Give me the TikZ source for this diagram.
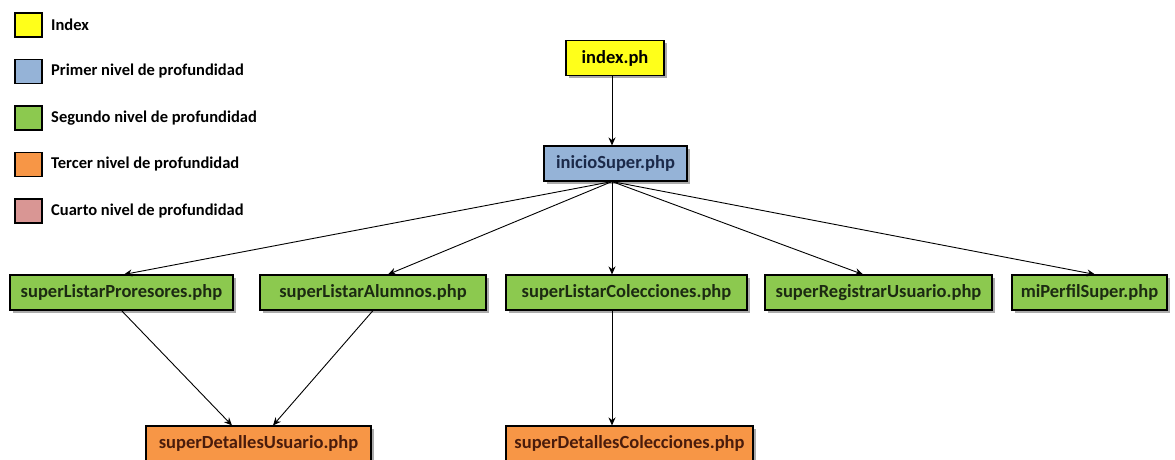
\documentclass[tikz,border=0pt]{standalone}
\usepackage{fontspec}
\setmainfont{Carlito}
\usepackage{xcolor}
\usetikzlibrary{arrows.meta,positioning,calc,shadows}
\definecolor{idxc}{HTML}{FFFF1A}
\definecolor{lvla}{HTML}{95B3D7}
\definecolor{lvlb}{HTML}{8CC94F}
\definecolor{lvlc}{HTML}{F79646}
\definecolor{lvld}{HTML}{D99694}
\definecolor{inkb}{HTML}{1B2A4A}
\definecolor{inkg}{HTML}{1C2A12}
\definecolor{inko}{HTML}{4A1C0C}

\tikzset{
  page/.style={draw=black, line width=1.1pt, minimum height=35pt, inner sep=0pt,
    font=\fontsize{18.5}{20}\selectfont\bfseries,
    drop shadow={shadow xshift=2.5pt, shadow yshift=-2.5pt, fill=black!55, opacity=0.6}},
  legbox/.style={draw=black, line width=1.1pt, minimum width=27pt, minimum height=24pt, inner sep=0pt},
  legtext/.style={anchor=west, inner sep=0pt, font=\fontsize{16.5}{18}\selectfont\bfseries},
  link/.style={draw=black, line width=0.9pt, -{Stealth[length=8pt,width=7pt]}}
}

\begin{document}
\begin{tikzpicture}[x=1pt, y=-1pt]
\useasboundingbox (0,0) rectangle (1175,459);

% legend, one row per depth level
\foreach \c/\t [count=\i] in {idxc/Index, lvla/Primer nivel de profundidad,
    lvlb/Segundo nivel de profundidad, lvlc/Tercer nivel de profundidad,
    lvld/Cuarto nivel de profundidad}{
  \node[legbox, fill=\c] (lg\i) at (28.5,{25+46.5*(\i-1)}) {};
  \node[legtext] (lt\i) at (51,{25+46.5*(\i-1)}) {\t};
}

% ---- index and first level ----
\node[page, fill=idxc, minimum width=98pt]  (idx) at (615,58)    {index.ph};
\node[page, fill=lvla, text=inkb, minimum width=143pt] (ini) at (615.5,163.5) {inicioSuper.php};

% ---- second level ----
\node[page, fill=lvlb, text=inkg, minimum width=223pt] (pl) at (121.5,292.5)  {superListarProresores.php};
\node[page, fill=lvlb, text=inkg, minimum width=226pt] (al) at (373,292.5)    {superListarAlumnos.php};
\node[page, fill=lvlb, text=inkg, minimum width=241pt] (co) at (626.5,292.5)  {superListarColecciones.php};
\node[page, fill=lvlb, text=inkg, minimum width=227pt] (re) at (878.5,292.5)  {superRegistrarUsuario.php};
\node[page, fill=lvlb, text=inkg, minimum width=155pt] (mp) at (1089.5,292.5) {miPerfilSuper.php};

% ---- third level ----
\node[page, fill=lvlc, text=inko, minimum width=225pt] (du) at (258.5,443.5) {superDetallesUsuario.php};
\node[page, fill=lvlc, text=inko, minimum width=247pt] (dc) at (629.5,443.5) {superDetallesColecciones.php};

% connectors
\coordinate (hub) at ([xshift=-3.5pt]ini.south);
\draw[link] ([xshift=-3pt]idx.south) -- ([xshift=-3.5pt]ini.north);
\draw[link] (hub) -- ([xshift=2.5pt]pl.north);
\draw[link] (hub) -- ([xshift=15pt]al.north);
\draw[link] (hub) -- ([xshift=-14.5pt]co.north);
\draw[link] (hub) -- ([xshift=-15.5pt]re.north);
\draw[link] (hub) -- ([xshift=5.5pt]mp.north);
\draw[link] (pl.south) -- ([xshift=-26.5pt]du.north);
\draw[link] (al.south) -- ([xshift=14.5pt]du.north);
\draw[link] ([xshift=-14.5pt]co.south) -- ([xshift=-17.5pt]dc.north);
\end{tikzpicture}
\end{document}
